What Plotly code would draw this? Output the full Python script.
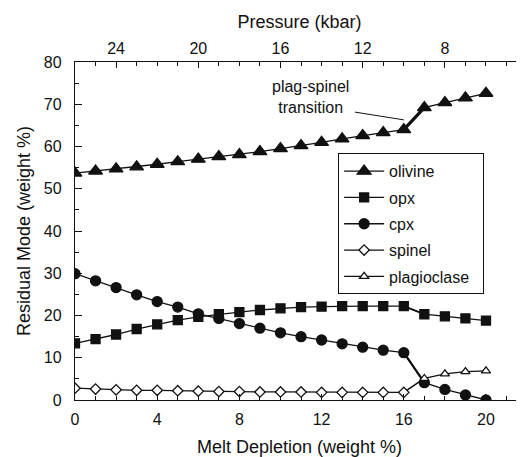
import plotly.graph_objects as go

depletion = list(range(0, 21))
olivine = [53.7, 54.2, 54.7, 55.2, 55.8, 56.4, 57.0, 57.6, 58.1, 58.8, 59.5,
           60.2, 61.0, 61.8, 62.6, 63.3, 64.0, 69.2, 70.4, 71.5, 72.6]
opx = [13.4, 14.4, 15.5, 16.8, 17.9, 18.9, 19.7, 20.3, 20.8, 21.3, 21.7,
       22.0, 22.1, 22.2, 22.2, 22.2, 22.2, 20.3, 19.8, 19.3, 18.8]
cpx = [29.9, 28.2, 26.6, 24.9, 23.3, 22.0, 20.4, 19.3, 18.1, 17.0, 15.9,
       15.0, 14.2, 13.3, 12.5, 11.8, 11.2, 4.1, 2.5, 1.2, 0.0]
spinel_x = list(range(0, 17))
spinel = [2.8, 2.6, 2.4, 2.3, 2.3, 2.2, 2.1, 2.0, 2.0, 1.9, 1.9,
          1.9, 1.8, 1.8, 1.8, 1.8, 1.8]
plag_x = [17, 18, 19, 20]
plagioclase = [5.1, 6.2, 6.7, 6.9]

pressure_ticks = [24, 20, 16, 12, 8]

FONT = "Liberation Sans, Arial, Helvetica, sans-serif"
K = "#111111"
LW = 1.3

fig = go.Figure()

def add(name, x, y, symbol, size, fill=K):
    fig.add_trace(go.Scatter(
        x=x, y=y, name=name + "\u00a0\u00a0", legendgroup=name, mode="lines+markers",
        line=dict(color=K, width=LW),
        marker=dict(symbol=symbol, size=size, color=fill,
                    line=dict(color=K, width=1.3)),
    ))

# thick transition segments (from data)
for ser, w in [(olivine, 3.2), (cpx, 2.2), (opx, 1.8)]:
    fig.add_trace(go.Scatter(x=depletion[16:18], y=ser[16:18], mode="lines",
                             line=dict(color=K, width=w), showlegend=False,
                             hoverinfo="skip"))
# spinel -> plagioclase connector
fig.add_trace(go.Scatter(x=[spinel_x[-1], plag_x[0]], y=[spinel[-1], plagioclase[0]],
                         mode="lines", line=dict(color=K, width=1.6),
                         showlegend=False, hoverinfo="skip"))

add("olivine", depletion, olivine, "triangle-up", 12)
add("opx", depletion, opx, "square", 9)
add("cpx", depletion, cpx, "circle", 10)
add("spinel", spinel_x, spinel, "diamond", 8, "white")
add("plagioclase", plag_x, plagioclase, "triangle-up", 8, "white")

# dummy trace for top axis
fig.add_trace(go.Scatter(x=[26 - d for d in depletion[:1]], y=[None], xaxis="x2",
                         showlegend=False, hoverinfo="skip"))

xr = 21.85
fig.update_layout(
    width=516, height=449,
    margin=dict(l=67, r=0, t=54, b=57),
    paper_bgcolor="white", plot_bgcolor="white",
    font=dict(family=FONT, size=16, color=K),
    showlegend=True,
    legend=dict(x=0.586, y=0.73, xanchor="left", yanchor="top",
                bordercolor=K, borderwidth=1, bgcolor="white",
                font=dict(size=16, family=FONT), tracegroupgap=2.5,
                itemwidth=40),
    xaxis=dict(range=[0, xr], tickvals=[0, 4, 8, 12, 16, 20], ticks="inside",
               ticklen=6, tickwidth=1, tickcolor=K, showline=True, linecolor=K,
               linewidth=1.3, showgrid=False, zeroline=False, automargin=False,
               ticklabelstandoff=5,
               minor=dict(dtick=1, ticks="inside", ticklen=4, tickcolor=K, showgrid=False),
               title=dict(text="Melt Depletion (weight %)", font=dict(size=18), standoff=17),
               tickfont=dict(size=16)),
    xaxis2=dict(range=[26, 26 - xr], overlaying="x", side="top", tickvals=pressure_ticks,
                ticks="inside", ticklen=6, tickwidth=1, tickcolor=K, showline=True,
                linecolor=K, linewidth=1.3, showgrid=False, zeroline=False,
                automargin=False, ticklabelstandoff=0,
                minor=dict(dtick=1, ticks="inside", ticklen=4, tickcolor=K, showgrid=False),
                title=dict(text="Pressure (kbar)", font=dict(size=18), standoff=7),
                tickfont=dict(size=16)),
    yaxis=dict(range=[0, 80], dtick=10, ticks="inside", ticklen=7, tickwidth=1,
               tickcolor=K, showline=True, linecolor=K, linewidth=1.3, mirror="ticks",
               showgrid=False, zeroline=False, automargin=False, ticklabelstandoff=9,
               minor=dict(dtick=5, ticks="inside", ticklen=4, tickcolor=K, showgrid=False),
               title=dict(text="Residual Mode (weight %)", font=dict(size=18), standoff=8),
               tickfont=dict(size=16)),
)

fig.add_annotation(x=11.45, y=71.7, text="plag-spinel<br>transition", showarrow=False,
                   font=dict(size=16, family=FONT, color=K), xref="x", yref="y")
fig.add_annotation(x=16.0, y=66.3, ax=13.55, ay=68.2, axref="x", ayref="y",
                   xref="x", yref="y", text="", showarrow=True, arrowhead=0,
                   arrowwidth=1, arrowcolor=K)

fig.write_html("out.html")
